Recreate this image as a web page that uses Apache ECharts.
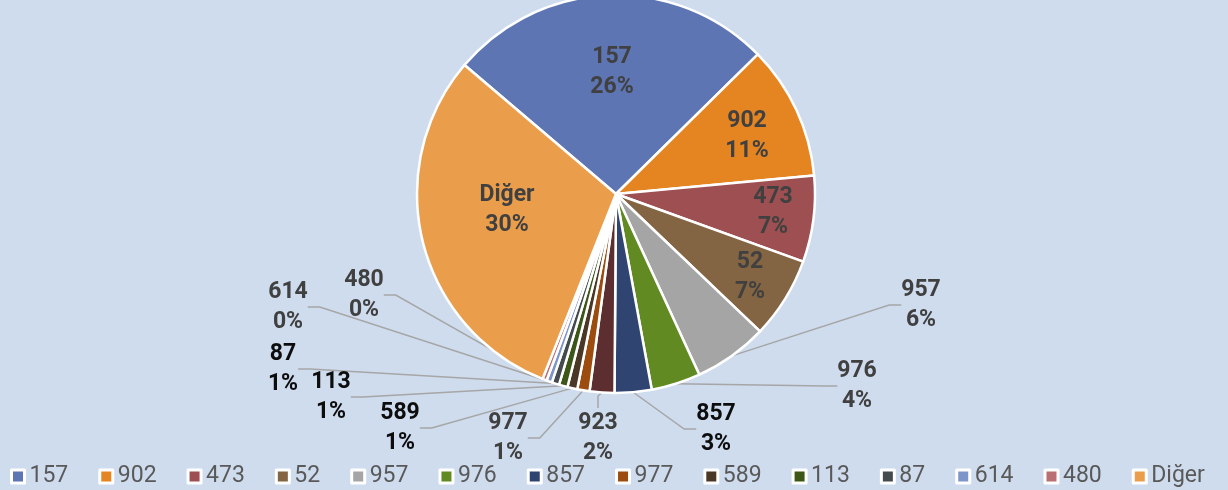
<!DOCTYPE html>
<html>
<head>
<meta charset="utf-8">
<script src="https://cdn.jsdelivr.net/npm/echarts@6/dist/echarts.min.js"></script>
<style>
  html, body { margin: 0; padding: 0; background: #CFDCEE; }
  #chart { width: 1228px; height: 490px; }
</style>
</head>
<body>
<div id="chart"></div>
<script>
  // dilimler (saat yönünde, 157'den başlar)
  var categories = ['157', '902', '473', '52', '957', '976', '857', '923', '977', '589', '113', '87', '614', '480', 'Diğer'];
  var values = [26.4, 10.9, 7.0, 6.6, 6.0, 4.0, 3.0, 2.0, 1.0, 0.8, 0.7, 0.6, 0.45, 0.35, 30.2];
  // lejantta görünenler (923 yok)
  var legendNames = ['157', '902', '473', '52', '957', '976', '857', '977', '589', '113', '87', '614', '480', 'Diğer'];

  var colors = ['#5E75B4', '#E58521', '#9E4F51', '#836443', '#A5A5A5', '#628A22', '#2F4470',
    '#5C2E2F', '#9C4C0E', '#4A3725', '#3B5617', '#454A4D', '#7E95CA', '#BA7072', '#EA9E4C'];

  // içeride kalan etiketler
  var insideNames = ['157', '902', '473', '52', 'Diğer'];
  // siyah yazılan etiketler
  var darkNames = ['857', '589', '113', '87'];

  // etiket merkezleri (px)
  var labelPos = {
    '157': [612, 72], '902': [747, 136], '473': [773, 212], '52': [750, 277], 'Diğer': [507, 210],
    '957': [921, 305], '976': [857, 386], '857': [716, 429], '923': [598, 438], '977': [508, 438],
    '589': [400, 428], '113': [331, 397], '87': [283, 369], '614': [288, 307], '480': [364, 295]
  };

  var chart = echarts.init(document.getElementById('chart'));

  var seriesData = categories.map(function (name, i) {
    var inside = insideNames.indexOf(name) >= 0;
    return {
      name: name,
      value: values[i],
      label: {
        position: inside ? 'inside' : 'outside',
        color: darkNames.indexOf(name) >= 0 ? '#0D0D0D' : '#404040'
      },
      labelLine: { show: !inside }
    };
  });

  chart.setOption({
    backgroundColor: '#CFDCEE',
    color: colors,
    animation: false,
    legend: {
      data: legendNames,
      left: 10,
      top: 465,
      width: 1218,
      padding: 0,
      icon: 'rect',
      itemWidth: 13,
      itemHeight: 13,
      itemGap: 30,
      itemStyle: { borderColor: '#fff', borderWidth: 3 },
      textStyle: { fontFamily: 'Roboto', fontSize: 23, color: '#595959' }
    },
    series: [{
      type: 'pie',
      center: [616, 194],
      radius: [0, 199],
      startAngle: 139.6,
      clockwise: true,
      avoidLabelOverlap: false,
      itemStyle: { borderColor: '#fff', borderWidth: 2.5 },
      label: {
        fontFamily: 'Roboto',
        fontWeight: 'bold',
        fontSize: 23,
        lineHeight: 30,
        align: 'center',
        formatter: function (p) {
          return p.name + '\n' + Math.round(p.percent) + '%';
        }
      },
      labelLine: {
        length: 10,
        length2: 12,
        smooth: false,
        lineStyle: { color: '#A6A6A6', width: 1.5 }
      },
      labelLayout: function (params) {
        var t = labelPos[categories[params.dataIndex]];
        return { x: t[0], y: t[1], align: 'center', verticalAlign: 'middle' };
      },
      data: seriesData
    }]
  });
</script>
</body>
</html>
